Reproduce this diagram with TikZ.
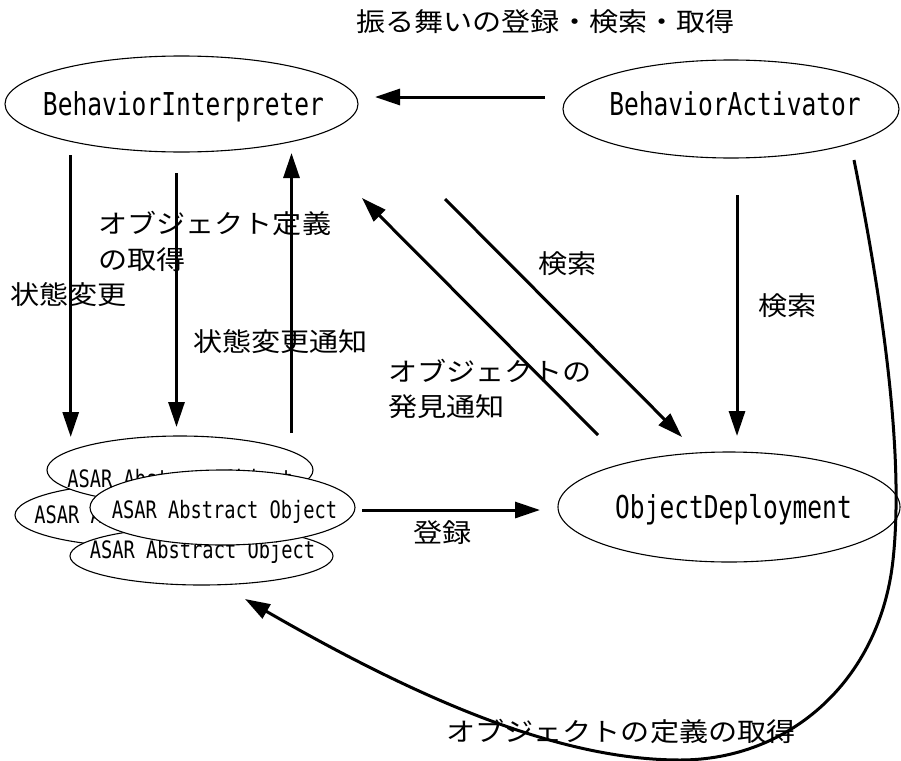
\documentclass[tikz,border=0pt]{standalone}
\usepackage{fontspec}
\newfontfamily\jpfont[FakeStretch=1.12]{Noto Sans CJK JP}
\newfontfamily\latfont[FakeStretch=0.78]{DejaVu Sans Mono}
\usetikzlibrary{shapes.geometric,arrows.meta}
\begin{document}
\begin{tikzpicture}[x=1pt,y=-1pt,
  ell/.style={ellipse, draw, line width=1.1pt, fill=white, inner sep=0pt},
  bigtxt/.style={font=\latfont\fontsize{31.5}{36}\selectfont, inner sep=0pt, anchor=base},
  smalltxt/.style={font=\latfont\fontsize{24}{28}\selectfont, inner sep=0pt, anchor=base},
  jp/.style={font=\jpfont\fontsize{26}{30}\selectfont, inner sep=0pt, anchor=west, text height=0.83em, text depth=0.07em},
  arr/.style={line width=3pt, -{Triangle[length=25pt,width=16pt]}},
]
\useasboundingbox (0,0) rectangle (901,760);

% main nodes
\node[ell, minimum width=353pt, minimum height=96pt] (BI) at (181.5,104) {};
\node[bigtxt] (BIt) at (183.5,115) {BehaviorInterpreter};
\node[ell, minimum width=336pt, minimum height=98pt] (BA) at (731,109) {};
\node[bigtxt] (BAt) at (735,115) {BehaviorActivator};
\node[ell, minimum width=342pt, minimum height=110pt] (OD) at (729,507) {};
\node[bigtxt] (ODt) at (733.5,518) {ObjectDeployment};

% stacked ASAR objects
\node[ell, minimum width=264pt, minimum height=64pt] (A2) at (147,515) {};
\node[smalltxt] (A2t) at (147,523) {ASAR Abstract Object};
\node[ell, minimum width=266pt, minimum height=68pt] (A1) at (180,470) {};
\node[smalltxt] (A1t) at (180,487) {ASAR Abstract Object};
\node[ell, minimum width=263pt, minimum height=58pt] (A3) at (201.5,556) {};
\node[smalltxt] (A3t) at (202.5,558) {ASAR Abstract Object};
\node[ell, minimum width=265pt, minimum height=75pt] (A4) at (222.5,507.5) {};
\node[smalltxt] (A4t) at (224.5,518) {ASAR Abstract Object};

% connector end points
\coordinate (c1s) at (545,97);   \coordinate (c1e) at (375,97);
\coordinate (c2s) at (70.7,155); \coordinate (c2e) at (70.7,437);
\coordinate (c3s) at (176.5,173);\coordinate (c3e) at (176.5,427);
\coordinate (c4s) at (291.5,433);\coordinate (c4e) at (291.5,153);
\coordinate (c5s) at (598,435);  \coordinate (c5e) at (362,198);
\coordinate (c6s) at (445,199);  \coordinate (c6e) at (682,437);
\coordinate (c7s) at (737,195);  \coordinate (c7e) at (737,436);
\coordinate (c8s) at (362,510);  \coordinate (c8e) at (540,510);
\coordinate (c9s) at (854,160);  \coordinate (c9e) at (245,599);

\draw[arr] (c1s) -- (c1e);
\draw[arr] (c2s) -- (c2e);
\draw[arr] (c3s) -- (c3e);
\draw[arr] (c4s) -- (c4e);
\draw[arr] (c5s) -- (c5e);
\draw[arr] (c6s) -- (c6e);
\draw[arr] (c7s) -- (c7e);
\draw[arr] (c8s) -- (c8e);
\draw[arr] (c9s) .. controls (880,290) and (905,450) .. (893,560)
  .. controls (880,680) and (790,760) .. (680,760)
  .. controls (560,760) and (420,700) .. (c9e);

% labels
\node[jp] (L0) at (356,28) {振る舞いの登録・検索・取得};
\node[jp] (L1) at (10,301) {状態変更};
\node[jp] (L2) at (98,230) {オブジェクト定義};
\node[jp] (L3) at (98,266) {の取得};
\node[jp] (L4) at (193,348) {状態変更通知};
\node[jp] (L5) at (388,378) {オブジェクトの};
\node[jp] (L6) at (388,413) {発見通知};
\node[jp] (L7) at (538,270) {検索};
\node[jp] (L8) at (758,312) {検索};
\node[jp] (L9) at (413,539) {登録};
\node[jp] (L10) at (446,738) {オブジェクトの定義の取得};
\end{tikzpicture}
\end{document}
